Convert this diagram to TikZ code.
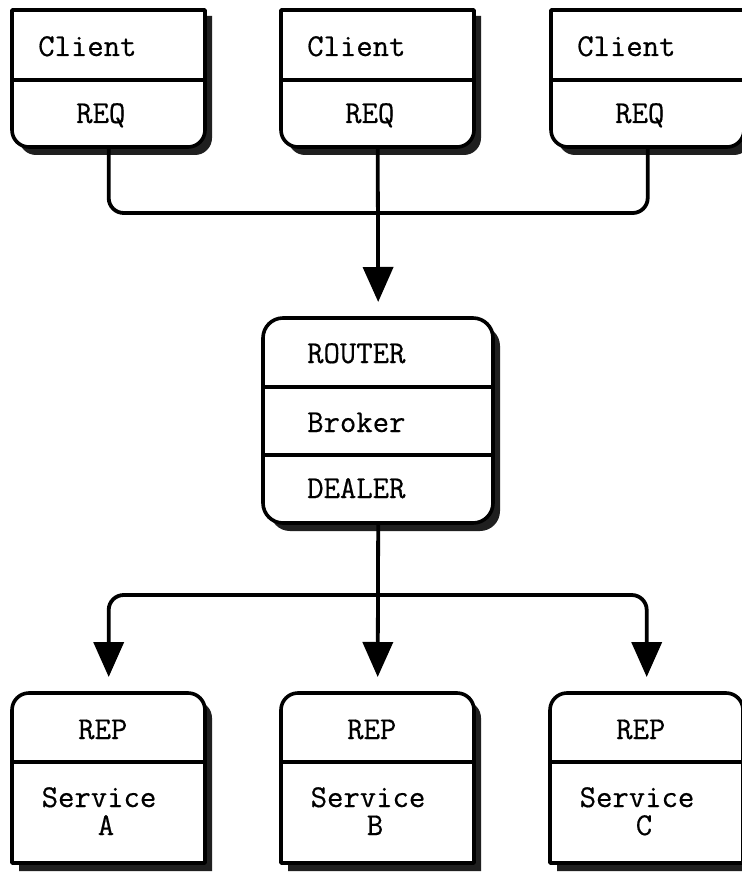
\documentclass[tikz,border=0pt]{standalone}
\usepackage{fontspec}
\setmonofont{Latin Modern Mono}[FakeBold=0.5]
\usetikzlibrary{arrows.meta}
\tikzset{
  boxline/.style={line width=3.6pt, draw=black, fill=white, line join=round},
  shadowc/.style={fill=black!88},
  divline/.style={line width=3.6pt},
  lbl/.style={inner sep=0pt, font=\ttfamily\fontsize{31.8}{28}\selectfont},
  anch/.style={draw=none, inner sep=0pt, minimum width=193pt},
  conn/.style={line width=3.8pt},
  arr/.style={line width=3.8pt, -{Triangle[width=30pt,length=35pt]}},
}
% top box: rounded bottom corners
\newcommand\topbox[2]{%
  \fill[shadowc] (#1+7,-16) -- (#1+200,-16) -- (#1+200,-138) arc[start angle=0,end angle=-90,radius=17] -- (#1+24,-155) arc[start angle=270,end angle=180,radius=17] -- cycle;
  \path[boxline] (#1,-10) -- (#1+193,-10) -- (#1+193,-130) arc[start angle=0,end angle=-90,radius=17] -- (#1+17,-147) arc[start angle=270,end angle=180,radius=17] -- cycle;
  \draw[divline] (#1,-80) -- (#1+193,-80);
  \node[anch, minimum height=137pt, anchor=north west] (#2) at (#1,-10) {};
}
% bottom box: rounded top corners
\newcommand\botbox[2]{%
  \fill[shadowc] (#1+7,-871) -- (#1+7,-718) arc[start angle=180,end angle=90,radius=17] -- (#1+183,-701) arc[start angle=90,end angle=0,radius=17] -- (#1+200,-871) -- cycle;
  \path[boxline] (#1,-863) -- (#1,-710) arc[start angle=180,end angle=90,radius=17] -- (#1+176,-693) arc[start angle=90,end angle=0,radius=17] -- (#1+193,-863) -- cycle;
  \draw[divline] (#1,-762) -- (#1+193,-762);
  \node[anch, minimum height=170pt, anchor=north west] (#2) at (#1,-693) {};
}
\begin{document}
\begin{tikzpicture}[x=1pt,y=1pt]
  \useasboundingbox (0,0) rectangle (741,-874);
  \fill[white] (0,0) rectangle (741,-874);

  % clients
  \topbox{12}{c1}
  \topbox{281}{c2}
  \topbox{551}{c3}
  \node[lbl, anchor=base west] (c1t) at (38,-56) {Client};
  \node[lbl, anchor=base west] (c1r) at (76,-123) {REQ};
  \node[lbl, anchor=base west] (c2t) at (307,-56) {Client};
  \node[lbl, anchor=base west] (c2r) at (345,-123) {REQ};
  \node[lbl, anchor=base west] (c3t) at (577,-56) {Client};
  \node[lbl, anchor=base west] (c3r) at (615,-123) {REQ};

  % broker
  \fill[shadowc, rounded corners=20pt] (270,-326) rectangle (500,-531);
  \path[boxline, rounded corners=20pt] (263,-318) rectangle (493,-523);
  \draw[divline] (263,-387) -- (493,-387);
  \draw[divline] (263,-455) -- (493,-455);
  \node[draw=none, inner sep=0pt, minimum width=230pt, minimum height=205pt, anchor=north west] (broker) at (263,-318) {};
  \node[lbl, anchor=base west] (brt) at (307,-363) {ROUTER};
  \node[lbl, anchor=base west] (brm) at (307,-432) {Broker};
  \node[lbl, anchor=base west] (brb) at (307,-498) {DEALER};

  % services
  \botbox{12}{s1}
  \botbox{281}{s2}
  \botbox{550}{s3}
  \node[lbl, anchor=base west] (s1t) at (78,-739) {REP};
  \node[lbl, anchor=base west] (s2t) at (347,-739) {REP};
  \node[lbl, anchor=base west] (s3t) at (616,-739) {REP};
  \node[lbl, align=center, anchor=north] (s1s) at (99,-787) {Service\\\hspace*{14pt}A};
  \node[lbl, align=center, anchor=north] (s2s) at (368,-787) {Service\\\hspace*{14pt}B};
  \node[lbl, align=center, anchor=north] (s3s) at (637,-787) {Service\\\hspace*{14pt}C};

  % connectors top
  \coordinate (hubA) at (378,-213);
  \draw[conn, rounded corners=15pt] (c1.south) -- (c1.south |- hubA) -- (c3.south |- hubA) -- (c3.south);
  \draw[arr] (c2.south) -- ([yshift=16pt]broker.north);

  % connectors bottom
  \coordinate (hubB) at (378,-595);
  \draw[arr] (broker.south) -- ([yshift=16pt]s2.north);
  \draw[arr, rounded corners=15pt] (hubB) -- (hubB -| s1.north) -- ([yshift=16pt]s1.north);
  \draw[arr, rounded corners=15pt] (hubB) -- (hubB -| s3.north) -- ([yshift=16pt]s3.north);
\end{tikzpicture}
\end{document}
